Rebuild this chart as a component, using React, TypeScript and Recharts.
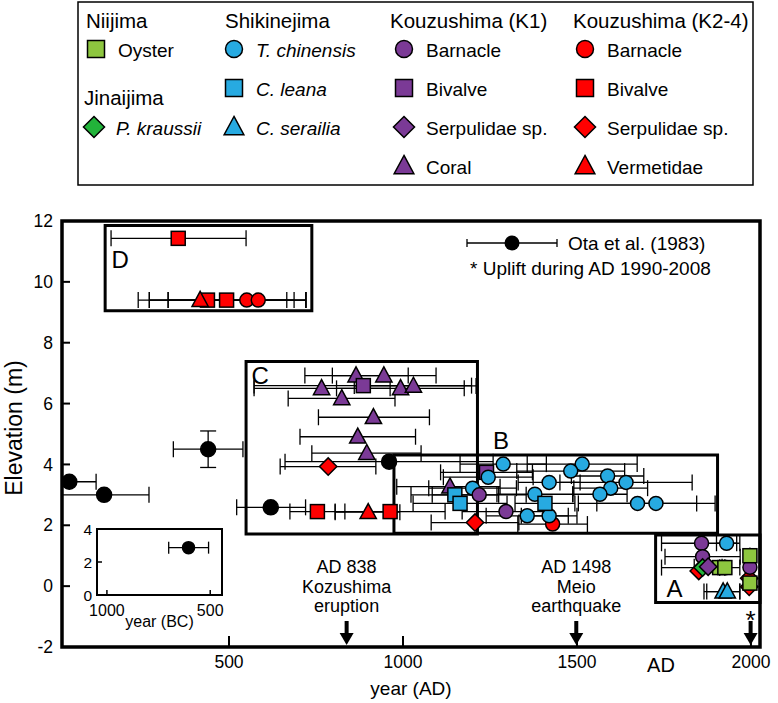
import React from "react";
import {
  ScatterChart,
  Scatter,
  XAxis,
  YAxis,
  ErrorBar,
  ReferenceArea,
  ReferenceDot,
} from "recharts";

// axis ticks
const xTicks = [500, 1000, 1500, 2000];
const yTicks = [-2, 0, 2, 4, 6, 8, 10, 12];
const insetXTicks = [500, 1000];
const insetYTicks = [0, 2, 4];

// Ota et al. (1983)
const otaData = [
  { x: 41, y: 3.43, ex: [21, 77], ey: 0 },
  { x: 141, y: 3.0, ex: [121, 129], ey: 0 },
  { x: 440, y: 4.5, ex: [100, 100], ey: 0.6 },
  { x: 620, y: 2.59, ex: [98, 100], ey: 0 },
  { x: 960, y: 4.09, ex: [299, 299], ey: 0 },
];

// Niijima
const oysterData = [
  { x: 1910, y: 0.61, ex: [0, 0] },
  { x: 1925, y: 0.61, ex: [0, 0] },
  { x: 1997, y: 1.0, ex: [0, 0] },
  { x: 1997, y: 0.1, ex: [0, 0] },
];
// Jinaijima
const kraussiiData = [{ x: 1861, y: 0.61, ex: [118, 107] }];

// Shikinejima
const chinensisData = [
  { x: 1288, y: 4.01, ex: [124, 124] },
  { x: 1515, y: 4.01, ex: [158, 158] },
  { x: 1482, y: 3.78, ex: [155, 155] },
  { x: 1588, y: 3.62, ex: [104, 104] },
  { x: 1420, y: 3.41, ex: [89, 89] },
  { x: 1641, y: 3.41, ex: [190, 190] },
  { x: 1597, y: 3.22, ex: [106, 106] },
  { x: 1566, y: 3.02, ex: [78, 78] },
  { x: 1379, y: 3.02, ex: [109, 109] },
  { x: 1200, y: 3.22, ex: [126, 126] },
  { x: 1245, y: 3.58, ex: [129, 129] },
  { x: 1674, y: 2.72, ex: [170, 170] },
  { x: 1727, y: 2.72, ex: [170, 170] },
  { x: 1357, y: 2.31, ex: [118, 118] },
  { x: 1420, y: 2.31, ex: [80, 80] },
  { x: 1930, y: 1.41, ex: [29, 29] },
];
const leanaData = [
  { x: 1149, y: 3.0, ex: [126, 126] },
  { x: 1164, y: 2.72, ex: [135, 135] },
  { x: 1408, y: 2.72, ex: [86, 86] },
];
const serailiaData = [
  { x: 1920, y: -0.18, ex: [55, 48] },
  { x: 1932, y: -0.18, ex: [59, 36] },
];

// Kouzushima (K1)
const k1BarnacleData = [
  { x: 1219, y: 3.0, ex: [135, 135] },
  { x: 1296, y: 2.45, ex: [126, 126] },
  { x: 1858, y: 1.41, ex: [115, 110] },
  { x: 1861, y: 0.97, ex: [108, 108] },
  { x: 1997, y: 0.62, ex: [0, 0] },
];
const k1BivalveData = [
  { x: 886, y: 6.59, ex: [314, 311] },
  { x: 1240, y: 3.74, ex: [132, 132] },
];
const k1SerpData = [{ x: 1877, y: 0.64, ex: [40, 40] }];
const k1CoralData = [
  { x: 865, y: 6.92, ex: [147, 150] },
  { x: 945, y: 6.92, ex: [148, 150] },
  { x: 766, y: 6.5, ex: [194, 197] },
  { x: 993, y: 6.5, ex: [184, 183] },
  { x: 1030, y: 6.58, ex: [170, 180] },
  { x: 824, y: 6.17, ex: [154, 153] },
  { x: 915, y: 5.55, ex: [158, 161] },
  { x: 870, y: 4.91, ex: [166, 166] },
  { x: 896, y: 4.37, ex: [158, 156] },
  { x: 1135, y: 3.27, ex: [153, 144] },
];

// Kouzushima (K2-4)
const k2BarnacleData = [
  { x: 551, y: 9.4, ex: [226, 170] },
  { x: 584, y: 9.4, ex: [313, 137] },
  { x: 1430, y: 2.04, ex: [100, 100] },
];
const k2BivalveData = [
  { x: 354, y: 11.43, ex: [193, 195] },
  { x: 438, y: 9.4, ex: [167, 249] },
  { x: 493, y: 9.4, ex: [168, 228] },
  { x: 754, y: 2.45, ex: [79, 79] },
  { x: 963, y: 2.45, ex: [158, 158] },
];
const k2SerpData = [
  { x: 785, y: 3.93, ex: [138, 137] },
  { x: 1207, y: 2.09, ex: [126, 126] },
  { x: 1850, y: 0.5, ex: [0, 0] },
  { x: 1995, y: 0.26, ex: [0, 0] },
  { x: 1995, y: -0.02, ex: [0, 0] },
];
const k2VermData = [
  { x: 417, y: 9.4, ex: [178, 249] },
  { x: 900, y: 2.43, ex: [95, 91] },
];

// inset (year BC)
const insetData = [{ x: 605, y: 2.87, ex: [97, 96] }];

// boxes A-D
const boxes = [
  { name: "D", x1: 144, x2: 738, y1: 9.05, y2: 11.85 },
  { name: "C", x1: 549, x2: 1214, y1: 1.71, y2: 7.38 },
  { name: "B", x1: 974, x2: 1904, y1: 1.74, y2: 4.31 },
  { name: "A", x1: 1726, x2: 2026, y1: -0.54, y2: 1.68 },
];

// events marked by arrows
const events = [
  { year: 838, lines: ["AD 838", "Kozushima", "eruption"] },
  { year: 1498, lines: ["AD 1498", "Meio", "earthquake"] },
  { year: 1999, lines: ["*"] },
];

const BLUE = "#27AAE1";
const PURPLE = "#7B3A96";
const RED = "#FF0000";
const OYSTER = "#8DC63F";
const GREEN = "#22B33A";
const FONT = '"Liberation Sans", Arial, Helvetica, sans-serif';

type Kind = "circle" | "square" | "diamond" | "triangle";

const Mark = ({ kind, cx, cy, fill, s }: { kind: Kind; cx: number; cy: number; fill: string; s: number }) => {
  const sw = 1.5;
  if (kind === "circle") return <circle cx={cx} cy={cy} r={s / 2} fill={fill} stroke="#000" strokeWidth={sw} />;
  if (kind === "square")
    return <rect x={cx - s / 2} y={cy - s / 2} width={s} height={s} fill={fill} stroke="#000" strokeWidth={sw} />;
  if (kind === "diamond") {
    const h = s * 0.62;
    return (
      <polygon
        points={`${cx},${cy - h} ${cx + h},${cy} ${cx},${cy + h} ${cx - h},${cy}`}
        fill={fill}
        stroke="#000"
        strokeWidth={sw}
      />
    );
  }
  return (
    <polygon
      points={`${cx},${cy - s * 0.62} ${cx + s * 0.58},${cy + s * 0.45} ${cx - s * 0.58},${cy + s * 0.45}`}
      fill={fill}
      stroke="#000"
      strokeWidth={sw}
    />
  );
};

const shapeOf = (kind: Kind, fill: string, s = 14) => (p: any) => (
  <Mark kind={kind} cx={p.cx} cy={p.cy} fill={fill} s={s} />
);

const boxLabel = (text: string, dx: number, dy: number) => (p: any) => {
  const vb = p.viewBox || {};
  return (
    <text x={vb.x + dx} y={vb.y + dy} textAnchor="middle" dominantBaseline="central" fontSize={24} fill="#000">
      {text}
    </text>
  );
};

const eventShape = (lines: string[]) => (p: any) => {
  const { cx, cy } = p;
  const star = lines.length === 1;
  return (
    <g>
      {star ? (
        <text x={cx} y={cy - 27} textAnchor="middle" dominantBaseline="central" fontSize={26} fill="#000">
          *
        </text>
      ) : (
        lines.map((t, i) => (
          <text
            key={i}
            x={cx}
            y={cy - 80 + i * 19.5}
            textAnchor="middle"
            dominantBaseline="central"
            fontSize={18}
            fill="#000"
          >
            {t}
          </text>
        ))
      )}
      <rect x={cx - 2} y={cy - 26} width={4} height={13} fill="#000" />
      <polygon points={`${cx - 7},${cy - 14} ${cx + 7},${cy - 14} ${cx},${cy - 2}`} fill="#000" />
    </g>
  );
};

const series: { data: any[]; kind: Kind; fill: string; s?: number }[] = [
  { data: otaData, kind: "circle", fill: "#000", s: 15 },
  { data: k2BivalveData, kind: "square", fill: RED },
  { data: k2VermData, kind: "triangle", fill: RED },
  { data: k2BarnacleData, kind: "circle", fill: RED },
  { data: k2SerpData, kind: "diamond", fill: RED },
  { data: k1CoralData, kind: "triangle", fill: PURPLE },
  { data: k1BivalveData, kind: "square", fill: PURPLE },
  { data: chinensisData, kind: "circle", fill: BLUE },
  { data: leanaData, kind: "square", fill: BLUE },
  { data: serailiaData, kind: "triangle", fill: BLUE },
  { data: k1BarnacleData, kind: "circle", fill: PURPLE },
  { data: oysterData, kind: "square", fill: OYSTER },
  { data: kraussiiData, kind: "diamond", fill: GREEN },
  { data: k1SerpData, kind: "diamond", fill: PURPLE },
];

const tickStyle = { fill: "#000", fontSize: 17.5 };

const LegendItem = ({ x, y, kind, fill, label, italic }: any) => (
  <g>
    <Mark kind={kind} cx={x} cy={y} fill={fill} s={17} />
    <text x={x + 22} y={y + 1} dominantBaseline="central" fontSize={19} fontStyle={italic ? "italic" : "normal"}>
      {label}
    </text>
  </g>
);

export default function App() {
  return (
    <div style={{ position: "relative", width: 778, height: 703, fontFamily: FONT, background: "#fff" }}>
      <style>{`body{margin:0}`}</style>
      <div style={{ position: "absolute", left: 0, top: 0 }}>
        <ScatterChart width={778} height={703} margin={{ top: 221, right: 18, bottom: 26, left: 12 }}>
          <XAxis
            type="number"
            dataKey="x"
            domain={[20, 2026]}
            ticks={xTicks}
            allowDataOverflow
            axisLine={false}
            tickSize={-11}
            tickMargin={20}
            tickLine={{ stroke: "#000", strokeWidth: 2 }}
            tick={tickStyle}
            height={30}
            label={{ value: "year (AD)", position: "bottom", offset: 5, fill: "#000", fontSize: 19 }}
          />
          <YAxis
            type="number"
            dataKey="y"
            domain={[-2, 12]}
            ticks={yTicks}
            allowDataOverflow
            axisLine={false}
            tickSize={-8}
            tickMargin={17}
            tickLine={{ stroke: "#000", strokeWidth: 2 }}
            tick={tickStyle}
            width={50}
          />
          <ReferenceArea x1={20} x2={2026} y1={-2} y2={12} fill="none" stroke="#000" strokeWidth={3.5} ifOverflow="visible" />
          {boxes.map((b) => (
            <ReferenceArea
              key={b.name}
              x1={b.x1}
              x2={b.x2}
              y1={b.y1}
              y2={b.y2}
              fill="none"
              stroke="#000"
              strokeWidth={3}
              ifOverflow="visible"
              label={boxLabel(
                b.name,
                b.name === "D" ? 15 : b.name === "C" ? 14 : b.name === "B" ? 107 : 19,
                b.name === "D" ? 34 : b.name === "C" ? 14 : b.name === "B" ? -14 : 53
              )}
            />
          ))}
          {events.map((e) => (
            <ReferenceDot key={e.year} x={e.year} y={-2} ifOverflow="visible" shape={eventShape(e.lines)} />
          ))}
          {series.map((s, i) => (
            <Scatter key={i} data={s.data} isAnimationActive={false} shape={shapeOf(s.kind, s.fill, s.s)}>
              <ErrorBar dataKey="ex" direction="x" width={8} stroke="#000" strokeWidth={1.3} />
              {s.data === otaData && <ErrorBar dataKey="ey" direction="y" width={8} stroke="#000" strokeWidth={1.3} />}
            </Scatter>
          ))}
        </ScatterChart>
      </div>

      <div style={{ position: "absolute", left: 70, top: 520 }}>
        <ScatterChart width={170} height={118} margin={{ top: 9, right: 18, bottom: 23, left: 10 }}>
          <XAxis
            type="number"
            dataKey="x"
            domain={[443, 1048]}
            reversed
            ticks={insetXTicks}
            allowDataOverflow
            axisLine={false}
            tickSize={-5}
            tickMargin={15}
            tickLine={{ stroke: "#000", strokeWidth: 1.5 }}
            tick={{ fill: "#000", fontSize: 16 }}
            height={20}
            label={{ value: "year (BC)", position: "bottom", offset: 1, fill: "#000", fontSize: 16 }}
          />
          <YAxis
            type="number"
            dataKey="y"
            domain={[0, 4]}
            ticks={insetYTicks}
            allowDataOverflow
            axisLine={false}
            tickSize={-5}
            tickMargin={10}
            tickLine={{ stroke: "#000", strokeWidth: 1.5 }}
            tick={{ fill: "#000", fontSize: 15.5 }}
            width={17}
          />
          <ReferenceArea x1={443} x2={1048} y1={0} y2={4} fill="none" stroke="#000" strokeWidth={2} ifOverflow="visible" />
          <Scatter data={insetData} isAnimationActive={false} shape={shapeOf("circle", "#000", 12)}>
            <ErrorBar dataKey="ex" direction="x" width={6} stroke="#000" strokeWidth={1.3} />
          </Scatter>
        </ScatterChart>
      </div>

      <svg width={778} height={703} style={{ position: "absolute", left: 0, top: 0, pointerEvents: "none" }}>
        <g fill="#000" fontFamily={FONT}>
          <rect x={78} y={2} width={675} height={183} fill="none" stroke="#000" strokeWidth={1.5} />
          <text x={86} y={20} dominantBaseline="central" fontSize={20.5}>Niijima</text>
          <LegendItem x={96} y={49} kind="square" fill={OYSTER} label="Oyster" />
          <text x={84} y={97} dominantBaseline="central" fontSize={20.5}>Jinaijima</text>
          <LegendItem x={94} y={127} kind="diamond" fill={GREEN} label="P. kraussii" italic />

          <text x={225} y={20} dominantBaseline="central" fontSize={20.5}>Shikinejima</text>
          <LegendItem x={234} y={49} kind="circle" fill={BLUE} label="T. chinensis" italic />
          <LegendItem x={234} y={88} kind="square" fill={BLUE} label="C. leana" italic />
          <LegendItem x={234} y={127} kind="triangle" fill={BLUE} label="C. serailia" italic />

          <text x={390} y={20} dominantBaseline="central" fontSize={20.5}>Kouzushima (K1)</text>
          <LegendItem x={404} y={49} kind="circle" fill={PURPLE} label="Barnacle" />
          <LegendItem x={404} y={88} kind="square" fill={PURPLE} label="Bivalve" />
          <LegendItem x={404} y={127} kind="diamond" fill={PURPLE} label="Serpulidae sp." />
          <LegendItem x={404} y={166} kind="triangle" fill={PURPLE} label="Coral" />

          <text x={573} y={20} dominantBaseline="central" fontSize={20.5}>Kouzushima (K2-4)</text>
          <LegendItem x={585} y={49} kind="circle" fill={RED} label="Barnacle" />
          <LegendItem x={585} y={88} kind="square" fill={RED} label="Bivalve" />
          <LegendItem x={585} y={127} kind="diamond" fill={RED} label="Serpulidae sp." />
          <LegendItem x={585} y={166} kind="triangle" fill={RED} label="Vermetidae" />

          <line x1={467} y1={243} x2={557} y2={243} stroke="#000" strokeWidth={1.3} />
          <line x1={467} y1={239} x2={467} y2={247} stroke="#000" strokeWidth={1.3} />
          <line x1={557} y1={239} x2={557} y2={247} stroke="#000" strokeWidth={1.3} />
          <circle cx={512} cy={243} r={7.5} fill="#000" />
          <text x={568} y={243} dominantBaseline="central" fontSize={19}>Ota et al. (1983)</text>
          <text x={470} y={268} dominantBaseline="central" fontSize={19}>* Uplift during AD 1990-2008</text>

          <text
            transform="translate(14,428) rotate(-90)"
            textAnchor="middle"
            dominantBaseline="central"
            fontSize={23}
          >
            Elevation (m)
          </text>
          <text x={661} y={665} textAnchor="middle" dominantBaseline="central" fontSize={20}>AD</text>
        </g>
      </svg>
    </div>
  );
}
